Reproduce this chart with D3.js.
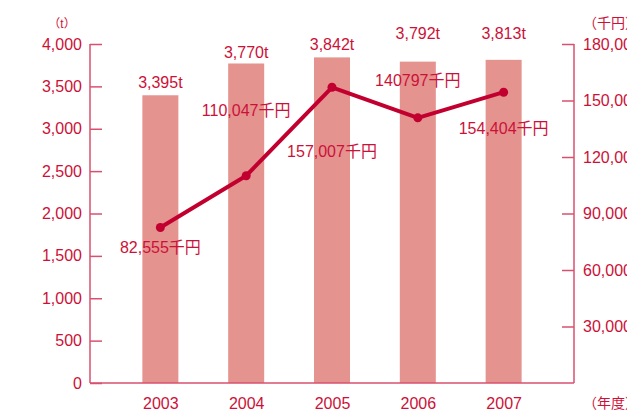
<!DOCTYPE html>
<html>
<head>
<meta charset="utf-8">
<script src="https://cdn.jsdelivr.net/npm/d3@7"></script>
<style>
  html, body { margin: 0; padding: 0; background: #fff; }
  svg { display: block; }
  text { font-family: "Liberation Sans", Arial, "Noto Sans CJK JP", sans-serif; fill: #cc1138; }
</style>
</head>
<body>
<svg id="chart" width="627" height="411"></svg>
<script>
// ---- data ----
const years = ["2003", "2004", "2005", "2006", "2007"];
const tonnage = [3395, 3770, 3842, 3792, 3813];            // t (bars)
const tonnageLabels = ["3,395t", "3,770t", "3,842t", "3,792t", "3,813t"];
const sales = [82555, 110047, 157007, 140797, 154404];     // 千円 (line)
const salesLabels = ["82,555千円", "110,047千円", "157,007千円", "140797千円", "154,404千円"];
const leftTicks = [0, 500, 1000, 1500, 2000, 2500, 3000, 3500, 4000];
const rightTicks = [30000, 60000, 90000, 120000, 150000, 180000];

// ---- layout (label baselines, px) ----
const barLabelY = [88, 58, 50, 39, 39];
const lineLabelY = [253, 116, 157, 86, 134];

(function () {
const svg = d3.select("#chart");
const pLeft = 90, pRight = 574, pTop = 44, pBottom = 383;
const axisColor = "#d9506e";
const barColor = "#e4938f";
const lineColor = "#c20030";

const x = d3.scalePoint().domain(years).range([pLeft, pRight]).padding(0.82);
const yL = d3.scaleLinear().domain([0, 4000]).range([pBottom, pTop]);
const yR = d3.scaleLinear().domain([0, 180000]).range([pBottom, pTop]);
const fmt = d3.format(",");

// bars
const barW = 36;
svg.append("g").selectAll("rect").data(tonnage).enter().append("rect")
  .attr("x", (d, i) => x(years[i]) - barW / 2)
  .attr("y", d => yL(d))
  .attr("width", barW)
  .attr("height", d => pBottom - yL(d))
  .attr("fill", barColor);

// left axis
const gL = svg.append("g").attr("transform", `translate(${pLeft},0)`);
gL.call(d3.axisRight(yL).tickValues(leftTicks).tickSize(12).tickFormat(""));
gL.select(".domain").remove();
gL.selectAll("line").attr("stroke", axisColor).attr("stroke-width", 1.5);
gL.append("line").attr("x1", 0).attr("x2", 0).attr("y1", pTop).attr("y2", pBottom)
  .attr("stroke", axisColor).attr("stroke-width", 1.5);
svg.append("g").selectAll("text").data(leftTicks).enter().append("text")
  .attr("x", 82).attr("y", d => yL(d) + 5.5)
  .attr("text-anchor", "end").attr("font-size", 16)
  .text(d => fmt(d));

// right axis
const gR = svg.append("g").attr("transform", `translate(${pRight},0)`);
gR.call(d3.axisLeft(yR).tickValues(rightTicks).tickSize(12).tickFormat(""));
gR.select(".domain").remove();
gR.selectAll("line").attr("stroke", axisColor).attr("stroke-width", 1.5);
gR.append("line").attr("x1", 0).attr("x2", 0).attr("y1", pTop).attr("y2", pBottom)
  .attr("stroke", axisColor).attr("stroke-width", 1.5);
svg.append("g").selectAll("text").data(rightTicks).enter().append("text")
  .attr("x", 583).attr("y", d => yR(d) + 5.5)
  .attr("text-anchor", "start").attr("font-size", 16)
  .text(d => fmt(d));

// bottom axis
const gB = svg.append("g").attr("transform", `translate(0,${pBottom})`);
gB.call(d3.axisBottom(x).tickSize(0).tickPadding(0));
gB.select(".domain").remove();
gB.append("line").attr("x1", pLeft).attr("x2", pRight).attr("y1", 0).attr("y2", 0)
  .attr("stroke", axisColor).attr("stroke-width", 1.5);
gB.selectAll(".tick text")
  .attr("y", 26).attr("dy", 0).attr("font-size", 16)
  .attr("font-family", "Liberation Sans, Arial, sans-serif").attr("fill", "#cc1138");

// unit labels
svg.append("text").attr("x", 62).attr("y", 28).attr("text-anchor", "middle")
  .attr("font-size", 12).text("（t）");
svg.append("text").attr("x", 583).attr("y", 28).attr("text-anchor", "start")
  .attr("font-size", 14).text("（千円）");
svg.append("text").attr("x", 583).attr("y", 408).attr("text-anchor", "start")
  .attr("font-size", 14).text("（年度）");

// bar labels
svg.append("g").selectAll("text").data(tonnageLabels).enter().append("text")
  .attr("x", (d, i) => x(years[i]))
  .attr("y", (d, i) => barLabelY[i])
  .attr("text-anchor", "middle").attr("font-size", 16)
  .text(d => d);

// line
const line = d3.line().x((d, i) => x(years[i])).y(d => yR(d));
svg.append("path").datum(sales).attr("d", line)
  .attr("fill", "none").attr("stroke", lineColor).attr("stroke-width", 4)
  .attr("stroke-linejoin", "round");
svg.append("g").selectAll("circle").data(sales).enter().append("circle")
  .attr("cx", (d, i) => x(years[i])).attr("cy", d => yR(d))
  .attr("r", 4.5).attr("fill", lineColor);

// line labels
svg.append("g").selectAll("text").data(salesLabels).enter().append("text")
  .attr("x", (d, i) => x(years[i]))
  .attr("y", (d, i) => lineLabelY[i])
  .attr("text-anchor", "middle").attr("font-size", 16)
  .text(d => d);
})();
</script>
</body>
</html>
